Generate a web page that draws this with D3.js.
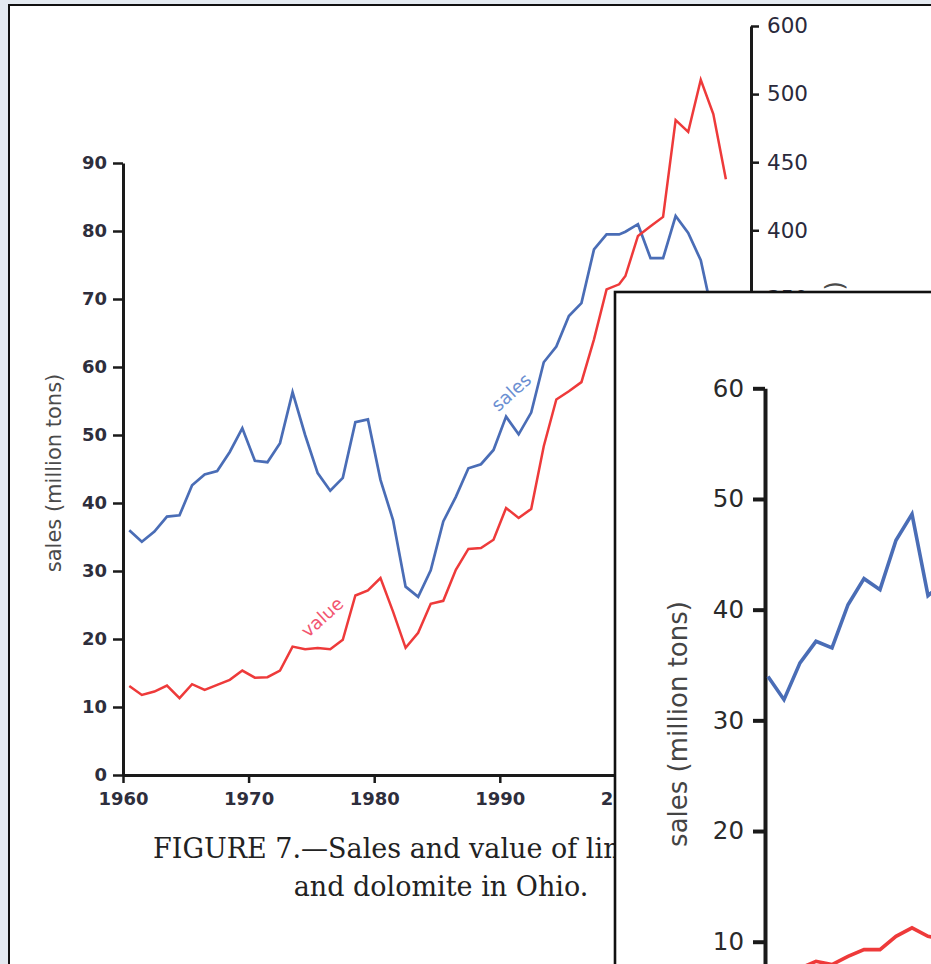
<!DOCTYPE html>
<html><head><meta charset="utf-8">
<script src="https://cdn.jsdelivr.net/npm/d3@7"></script>
<style>
html,body{margin:0;padding:0;background:#e4eaf1;}
svg{display:block;}
</style></head><body>
<svg id="c" width="931" height="964"></svg>
<script>
// ---------- main figure data ----------
const years = [1960,1961,1962,1963,1964,1965,1966,1967,1968,1969,
               1970,1971,1972,1973,1974,1975,1976,1977,1978,1979,
               1980,1981,1982,1983,1984,1985,1986,1987,1988,1989,
               1990,1991,1992,1993,1994,1995,1996,1997,1998,1999,
               2000,2001,2002,2003,2004,2005,2006,2007,2008];
// sales, million tons (left axis)
const sales = [36.0,34.3,35.8,38.0,38.2,42.6,44.2,44.7,47.5,51.0,
               46.2,46.0,48.8,56.3,50.0,44.4,41.8,43.7,51.9,52.3,
               43.4,37.5,27.7,26.2,30.1,37.3,40.9,45.1,45.7,47.8,
               52.7,50.1,53.3,60.7,63.0,67.5,69.4,77.3,79.5,79.5,
               79.9,81.0,76.0,76.0,82.2,79.7,75.7,67.2,63.0];
// value, million dollars (right axis)
const value = [65.4,58.8,61.3,65.7,56.4,66.7,62.5,66.2,69.9,76.7,
               71.5,71.8,76.7,94.3,92.4,93.2,92.4,99.3,131.8,135.5,
               144.6,120.0,93.4,104.4,125.7,127.9,150.7,166.0,166.7,172.8,
               196.1,188.7,195.4,241.4,275.7,281.8,288.5,319.9,356.6,360.3,
               366.4,395.8,402.9,409.8,480.9,472.3,510.5,485.3,437.5];
const leftTicks = [0,10,20,30,40,50,60,70,80,90];
const xTicks = [1960,1970,1980,1990,2000,2010];
const rightTicks = [0,50,100,150,200,250,300,350,400,450,500,550];
const rightTickLabels = ["0","50","100","150","200","250","300","350","400","450","500","600"];

// ---------- overlapping inset figure data ----------
const insetYears = [1960,1961,1962,1963,1964,1965,1966,1967,1968,1969,1970,1971];
const insetSales = [33.97,31.87,35.19,37.14,36.54,40.45,42.8,41.81,46.27,48.63,41.26,42.5];
const insetValue = [7.8,7.7,7.6,8.23,7.93,8.68,9.29,9.29,10.49,11.25,10.49,10.2];
const insetTicks = [10,20,30,40,50,60];

const BLUE = "#4a6db6", RED = "#ee3a3a", INK = "#1a1a1a";
const svg = d3.select("#c");

svg.append("rect").attr("x",0).attr("y",0).attr("width",931).attr("height",964).attr("fill","#e4eaf1");
svg.append("rect").attr("x",9).attr("y",5).attr("width",940).attr("height",980)
   .attr("fill","#fff").attr("stroke","#111").attr("stroke-width",2);

// scales
const x = d3.scaleLinear().domain([1960,2010]).range([123,751]);
const yL = d3.scaleLinear().domain([0,90]).range([775,163]);
const yR = d3.scaleLinear().domain([0,550]).range([775,26]);
// points before 2000 sit at mid-year in the original drawing
const plotYear = yr => yr < 2000 ? yr + 0.5 : yr;

function styleAxis(g, domainW, tickW, fs, weight, col){
  g.select(".domain").attr("stroke",INK).attr("stroke-width",domainW);
  g.selectAll(".tick line").attr("stroke",INK).attr("stroke-width",tickW);
  g.selectAll(".tick text").attr("fill",col).attr("font-family","DejaVu Sans")
    .attr("font-size",fs).attr("font-weight",weight);
}

// left axis
const gL = svg.append("g").attr("transform","translate(123,0)")
  .call(d3.axisLeft(yL).tickValues(leftTicks).tickSize(10).tickPadding(6).tickSizeOuter(0));
styleAxis(gL,3,2.5,18,"bold","#2e2e3c");

// bottom axis
const gB = svg.append("g").attr("transform","translate(0,775)")
  .call(d3.axisBottom(x).tickValues(xTicks).tickFormat(d3.format("d")).tickSize(8).tickPadding(9).tickSizeOuter(0));
styleAxis(gB,3,2.5,18,"bold","#2e2e3c");

// right axis
const gR = svg.append("g").attr("transform","translate(751,0)")
  .call(d3.axisRight(yR).tickValues(rightTicks).tickFormat((d,i)=>rightTickLabels[i]).tickSize(8).tickPadding(8).tickSizeOuter(0));
styleAxis(gR,3,2.5,21.5,"normal","#2a2a3c");

// axis titles
svg.append("text").attr("transform","translate(61,473) rotate(-90)")
  .attr("text-anchor","middle").attr("font-family","DejaVu Sans").attr("font-size",21)
  .attr("fill","#4a4a4a").text("sales (million tons)");
svg.append("text").attr("transform","translate(843,281) rotate(-90)")
  .attr("text-anchor","end").attr("font-family","DejaVu Sans").attr("font-size",24)
  .attr("fill","#4a4a4a").text("value (million dollars)");

// lines
const lineS = d3.line().x((d,i)=>x(plotYear(years[i]))).y(d=>yL(d));
const lineV = d3.line().x((d,i)=>x(plotYear(years[i]))).y(d=>yR(d));
svg.append("path").datum(sales).attr("d",lineS).attr("fill","none")
  .attr("stroke",BLUE).attr("stroke-width",2.7).attr("stroke-linejoin","miter");
svg.append("path").datum(value).attr("d",lineV).attr("fill","none")
  .attr("stroke",RED).attr("stroke-width",2.5).attr("stroke-linejoin","miter");

// in-line labels
svg.append("text").attr("transform","translate(511,392) rotate(-42)")
  .attr("text-anchor","middle").attr("dominant-baseline","central")
  .attr("font-family","DejaVu Sans").attr("font-size",18).attr("fill","#6b8fd2").text("sales");
svg.append("text").attr("transform","translate(322,617) rotate(-42)")
  .attr("text-anchor","middle").attr("dominant-baseline","central")
  .attr("font-family","DejaVu Sans").attr("font-size",18).attr("fill","#f2556f").text("value");

// caption
svg.append("text").attr("x",153).attr("y",858).attr("font-family","DejaVu Serif")
  .attr("font-size",27).attr("fill","#222").text("FIGURE 7.\u2014Sales and value of limestone");
svg.append("text").attr("x",441).attr("y",896).attr("text-anchor","middle").attr("font-family","DejaVu Serif")
  .attr("font-size",27).attr("fill","#222").text("and dolomite in Ohio.");

// ---------- inset (overlapping second figure) ----------
const gi = svg.append("g");
gi.append("rect").attr("x",615).attr("y",292).attr("width",400).attr("height",800)
  .attr("fill","#fff").attr("stroke","#111").attr("stroke-width",2.6);
const xi = d3.scaleLinear().domain([1960,1970]).range([768,928]);
const yi = d3.scaleLinear().domain([0,60]).range([1052.4,388.3]);
const gIA = gi.append("g").attr("transform","translate(765,0)")
  .call(d3.axisLeft(yi).tickValues(insetTicks).tickSize(12).tickPadding(9).tickSizeOuter(0));
styleAxis(gIA,4,4,24.5,"normal","#2a2a2a");
gi.append("text").attr("transform","translate(687,724) rotate(-90)")
  .attr("text-anchor","middle").attr("font-family","DejaVu Sans").attr("font-size",26)
  .attr("fill","#444").text("sales (million tons)");
const lineIS = d3.line().x((d,i)=>xi(insetYears[i])).y(d=>yi(d));
gi.append("path").datum(insetSales).attr("d",lineIS).attr("fill","none")
  .attr("stroke",BLUE).attr("stroke-width",3.6);
gi.append("path").datum(insetValue).attr("d",lineIS).attr("fill","none")
  .attr("stroke",RED).attr("stroke-width",3.6);
</script>
</body></html>
